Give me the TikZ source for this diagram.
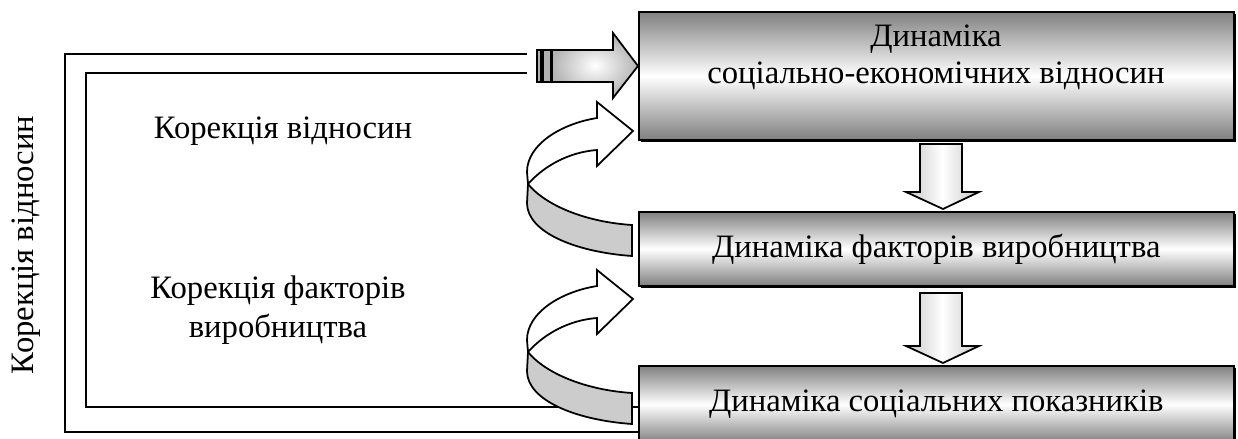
\documentclass[tikz,border=0pt]{standalone}
\usepackage{fontspec}
\setmainfont{Liberation Serif}
\usetikzlibrary{shadows}

\begin{document}
\begin{tikzpicture}[x=0.02cm,y=-0.02cm,line width=1pt,
    font=\fontsize{18.6}{20}\selectfont]
    \useasboundingbox (0,0) rectangle (1238,439);
    \tikzset{
      dynbox/.style={draw,anchor=north west,minimum width=11.9cm,
        top color=gray,bottom color=gray,middle color=white,
        drop shadow={shadow xshift=1.2pt,shadow yshift=-1.2pt,fill=black,opacity=1}},
      blockarrow/.style={draw,left color=gray!45,right color=gray!45,middle color=white},
    }
    % boxes
    \node[dynbox,minimum height=2.56cm] (dyn1) at (638,11) {};
    \node[align=center] (dyn1txt) at (936,57) {Динаміка\\[1pt]соціально-економічних відносин};
    \node[dynbox,minimum height=1.48cm] (dyn2) at (638,211) {Динаміка факторів виробництва};
    \node[dynbox,minimum height=1.54cm] (dyn3) at (638,365) {Динаміка соціальних показників};
    % down arrows
    \draw[blockarrow] (920,144) -- (962,144) -- (962,192) -- (979,192) -- (943,209) -- (906,192) -- (920,192) -- cycle;
    \draw[blockarrow] (920,293) -- (962,293) -- (962,346) -- (979,346) -- (943,363) -- (906,346) -- (920,346) -- cycle;
    % feedback lines
    \coordinate (tailA) at (527,54);
    \coordinate (tailB) at (527,73);
    \draw (dyn3.west |- 0,432) -- (65,432) -- (65,54) -- (tailA);
    \draw (dyn3.west |- 0,407) -- (86,407) -- (86,73) -- (tailB);
    % arrow into the top box
    \draw[fill=gray!60] (537,50) rectangle (541,82);
    \draw[fill=gray!60] (543,50) rectangle (551,82);
    \draw[shading=radial,inner color=white,outer color=gray!60] (552,50) -- (613,50) -- (613,33) -- (dyn1.west |- 0,66) -- (613,98) -- (613,82) -- (552,82) -- cycle;
    % curved arrows
    \foreach \dy in {0,168}{
      \begin{scope}[shift={(0,\dy)}]
        \draw[fill=gray!40] (528,184) -- (527,203) .. controls (527,232) and (575,252) .. (632,256) -- (632,225) .. controls (585,222) and (545,205) .. (528,184) -- cycle;
        \draw[fill=white] (528,184) .. controls (545,165) and (570,152) .. (597,150) -- (597,166) -- (633,131) -- (597,102) -- (597,118) .. controls (560,124) and (527,145) .. (527,172) -- cycle;
      \end{scope}
    }
    % labels
    \node (korv) at (283,131) {Корекція відносин};
    \node[align=center] (korf) at (278,310) {Корекція факторів\\[2pt]виробництва};
    \node[rotate=90] (korl) at (26,245) {Корекція відносин};
\end{tikzpicture}
\end{document}
